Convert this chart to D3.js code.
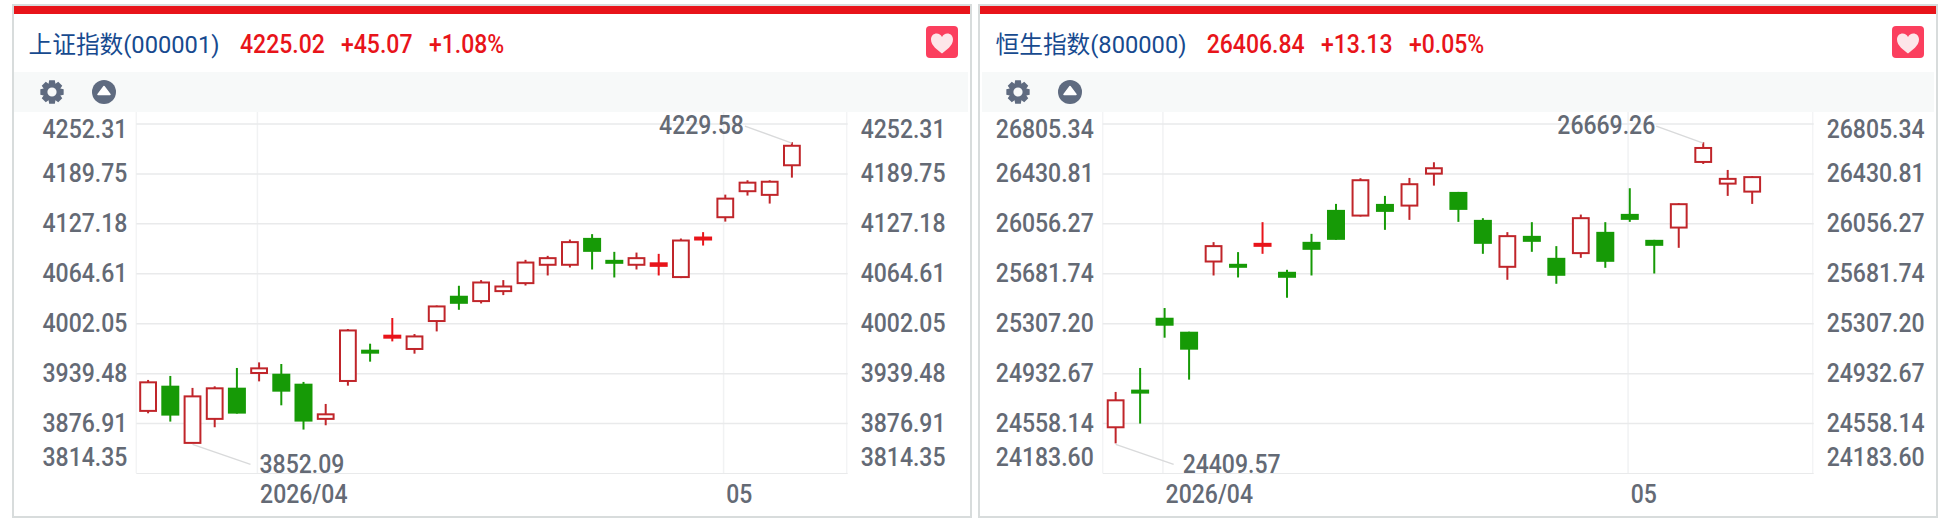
<!DOCTYPE html>
<html><head><meta charset="utf-8">
<script src="https://cdn.jsdelivr.net/npm/d3@7/dist/d3.min.js"></script>
<style>
html,body{margin:0;padding:0;background:#fff;overflow:hidden}
svg{display:block}
text{font-family:Roboto,"Noto Sans CJK SC",sans-serif}
</style></head><body>
<svg id="c" width="1944" height="524"></svg>
<script>
// ---------- 上证指数 ----------
const shTicks=[4252.31,4189.75,4127.18,4064.61,4002.05,3939.48,3876.91,3814.35];
const shOpen =[3892.8,3924.4,3852.7,3882.8,3921.9,3940.3,3939.4,3926.9,3882.8,3930.3,3969.5,3988.3,3970.4,4005.4,4037.1,4030.4,4042.9,4052.9,4075.9,4075.9,4109.6,4082.1,4075.9,4079,4060.5,4111.3,4135.5,4168.1,4163.5,4200.6];
const shHigh =[3931.6,3936.6,3921.6,3923.6,3946.6,3953.6,3951.6,3929.1,3901.5,3995.4,3977,4009.2,3989.1,4024.9,4049.6,4056.7,4056.7,4082.1,4087.1,4107.5,4114.3,4092.1,4091.2,4089.6,4108.8,4116.8,4163.8,4181.8,4181.8,4229.58];
const shLow  =[3889.8,3879.4,3852.09,3872.3,3889.4,3929.8,3899.8,3869.4,3874.8,3924.4,3954.5,3979.9,3964.5,3992.4,4019.5,4027.4,4037.9,4049.9,4062.5,4072.5,4070,4060,4070,4062.5,4059.2,4100,4130,4162.6,4152.6,4185.1];
const shClose=[3928.6,3886.9,3911,3921.1,3889.4,3946.1,3916.9,3879.4,3888.5,3993.6,3964.5,3983.3,3986.1,4023.7,4027,4053.7,4048.7,4078.7,4084.2,4104.3,4092.1,4077.1,4084.2,4073.3,4106.3,4106.3,4158.8,4178.8,4179.95,4225.02];
const shSolidRed=[11,23,25];
// ---------- 恒生指数 ----------
const hsTicks=[26805.34,26430.81,26056.27,25681.74,25307.20,24932.67,24558.14,24183.60];
const hsOpen =[24530.4,24812.8,25352.1,25247.2,25773.8,25756.6,25913.9,25696.7,25921.4,26161.1,26118.4,26206,26193.3,26433,26295.9,26086.2,25734.1,25966.3,25801.5,25836.8,25996.3,26131.1,25936.4,26028.5,26520.7,26358.1,26298.2];
const hsHigh =[24795.5,24975.3,25424.8,25247.2,25919.2,25844.3,26069,25711.7,25981.3,26206,26398.6,26266,26400.8,26518.4,26295.9,26098.9,25994.1,26069,25889.2,26125.9,26069,26323.6,25936.4,26211.3,26669.26,26460.7,26413.5];
const hsLow  =[24409.57,24558.1,25202.3,24887.7,25669,25654,25831.5,25501.9,25669,25936.4,26110.9,26011.3,26086.2,26343.1,26071.2,25831.5,25636.8,25846.5,25606.8,25801.5,25726.6,26071.2,25683.9,25876.5,26505.7,26266,26206];
const hsClose=[24732.6,24782.8,25292.2,25112.4,25889.2,25726.6,25883.9,25651.7,25861.5,25936.4,26383.6,26146.1,26353.6,26473.5,26161.1,25906.4,25964.1,25921.4,25666.7,26098.9,25771.6,26086.2,25891.4,26203.8,26625.5,26393.71,26406.84];
const hsSolidRed=[6];

const RED="#e8141a",HOLLOW="#c0252a",GREEN="#169a06",GREY="#646a75",BLUE="#174a8f";
const svg=d3.select("#c");
const gearPath=(()=>{const t=8,ro=12,ri=9;let p=[];for(let i=0;i<t;i++){const a=i*2*Math.PI/t;const w=.24;
[[ri,a-.39-.0],[ro,a-w],[ro,a+w],[ri,a+.39]].forEach(q=>p.push([q[0]*Math.cos(q[1]),q[0]*Math.sin(q[1])]));}
return "M"+p.map(q=>q[0].toFixed(2)+","+q[1].toFixed(2)).join("L")+"Z M4.6,0A4.6,4.6 0 1 0 -4.6,0A4.6,4.6 0 1 0 4.6,0Z";})();
const heartPath="M0,11.5C-4,8 -11,4 -11,-2.5C-11,-6.5 -8,-8.5 -5.5,-8.5C-3,-8.5 -1,-7 0,-5C1,-7 3,-8.5 5.5,-8.5C8,-8.5 11,-6.5 11,-2.5C11,4 4,8 0,11.5Z";
// condensed numeric look: tall glyphs squeezed to the reference's width
function din(sel){sel.attr("font-size",25).attr("font-weight",500).each(function(){
  const L=this.getComputedTextLength();this.setAttribute("textLength",(L*0.92).toFixed(1));this.setAttribute("lengthAdjust","spacingAndGlyphs");});}

function panel(o){
  const g=svg.append("g").attr("transform",`translate(${o.left},0)`);
  const W=o.width;
  g.append("rect").attr("x",1).attr("y",5).attr("width",W-2).attr("height",512).attr("fill","#fff").attr("stroke","#d8dcdc").attr("stroke-width",2);
  g.append("rect").attr("x",2).attr("y",6).attr("width",W-4).attr("height",8).attr("fill",RED);
  g.append("rect").attr("x",o.barInset).attr("y",72).attr("width",W-o.barInset-4).attr("height",40).attr("fill","#f7f9f9");

  g.append("text").attr("x",o.titleX).attr("y",53).attr("font-size",23.7).attr("fill",BLUE).text(o.title);
  o.quote.forEach((s,i)=>g.append("text").attr("x",o.quoteX[i]).attr("y",53).attr("fill",RED).text(s).call(din));

  g.append("path").attr("transform",`translate(${o.gearX},92)`).attr("d",gearPath).attr("fill","#5f6b80").attr("fill-rule","evenodd");
  g.append("circle").attr("cx",o.gearX+52).attr("cy",92).attr("r",12).attr("fill","#5f6b80");
  g.append("path").attr("transform",`translate(${o.gearX+52},92)`).attr("d","M0,-5.5L6,2.5L-6,2.5Z").attr("fill","#fff").attr("stroke","#fff").attr("stroke-width",1.5).attr("stroke-linejoin","round");
  g.append("rect").attr("x",W-46).attr("y",26).attr("width",32).attr("height",32).attr("rx",4).attr("fill","#fb3f5e");
  g.append("path").attr("transform",`translate(${W-30},42)`).attr("d",heartPath).attr("fill","#fde6e9");

  const x=d3.scaleBand().domain(d3.range(o.slots)).range([o.plotL,o.plotR]);
  const y=d3.scaleLinear().domain([o.ticks[o.ticks.length-1],o.ticks[0]]).range([473.5,124]);
  const cx=i=>x(i)+x.bandwidth()/2+0.7;

  // grid
  const grid=g.append("g").attr("fill","none");
  [o.plotL,o.plotR].forEach(v=>grid.append("line").attr("x1",v).attr("x2",v).attr("y1",112).attr("y2",473).attr("stroke","#f3f4f5").attr("stroke-width",1.5));
  o.monthIdx.forEach(i=>grid.append("line").attr("x1",cx(i)-1.7).attr("x2",cx(i)-1.7).attr("y1",112).attr("y2",473).attr("stroke","#f1f2f3").attr("stroke-width",1.5));
  o.ticks.forEach((t,k)=>grid.append("line").attr("x1",o.plotL).attr("x2",o.plotR+1).attr("y1",y(t)).attr("y2",y(t)).attr("stroke","#e9eaeb").attr("stroke-width",k===o.ticks.length-1?1:1.5));

  // axes
  const nudge=(sel)=>sel.selectAll(".tick text").attr("dy",null)
     .attr("y",(d,i)=>8.8+(i===0?5:i===o.ticks.length-1?-16.8:-0.8));
  const fmt=d=>d.toFixed(2);
  const yL=g.append("g").attr("transform",`translate(${o.plotL},0)`).call(d3.axisLeft(y).tickValues(o.ticks).tickFormat(fmt).tickSize(0).tickPadding(o.labelPadL));
  const yR=g.append("g").attr("transform",`translate(${o.plotR},0)`).call(d3.axisRight(y).tickValues(o.ticks).tickFormat(fmt).tickSize(0).tickPadding(o.labelPadR));
  [yL,yR].forEach(a=>{a.select(".domain").remove();a.attr("font-family",null).attr("font-size",null);a.selectAll("text").attr("fill",GREY).call(din);nudge(a);});

  const xa=d3.axisBottom(x).tickValues(o.monthIdx).tickSize(0).tickFormat((d,i)=>o.monthLabels[i]);
  const xg=g.append("g").attr("transform","translate(0,473)").call(xa);
  xg.attr("font-family",null).attr("font-size",null);
  xg.select(".domain").remove();
  xg.selectAll(".tick text").attr("fill",GREY).attr("text-anchor","start")
    .attr("dy",null).attr("y",30).attr("x",1.7).call(din);

  // candles
  const data=o.open.map((v,i)=>({i,open:v,high:o.high[i],low:o.low[i],close:o.close[i],up:o.close[i]>v,solid:o.solidRed.includes(i)}));
  const bw=17;
  const col=d=>d.up?HOLLOW:(d.solid?RED:GREEN);
  const c=g.append("g").selectAll("g").data(data).join("g");
  c.append("line").attr("x1",d=>cx(d.i)).attr("x2",d=>cx(d.i)).attr("y1",d=>y(d.high)).attr("y2",d=>y(d.low)).attr("stroke",col).attr("stroke-width",2);
  c.append("rect").attr("x",d=>cx(d.i)-(d.up?bw/2-.6:9)).attr("width",d=>d.up?bw-1.2:18)
    .attr("y",d=>y(Math.max(d.open,d.close))).attr("height",d=>Math.abs(y(d.open)-y(d.close)))
    .attr("fill",d=>d.up?"#fff":col(d)).attr("stroke",d=>d.up?col(d):"none").attr("stroke-width",2);

  // extreme labels
  o.notes.forEach(n=>{
    const vy=y(n.v);
    const tx=n.side==="hi"?cx(n.i)-n.dx:cx(n.i)+n.dx;
    g.append("line").attr("x1",cx(n.i)).attr("y1",vy+1).attr("x2",tx).attr("y2",n.side==="hi"?vy-16:vy+21).attr("stroke","#d9dadb").attr("stroke-width",1.5);
    g.append("text").attr("x",n.side==="hi"?tx-1:tx+9).attr("y",n.side==="hi"?vy-8.5:vy+30).attr("fill",GREY)
      .attr("text-anchor",n.side==="hi"?"end":"start").text(n.v.toFixed(2)).call(din);
  });
}

panel({left:12,width:960,barInset:2,titleX:16.5,title:"上证指数(000001)",quote:["4225.02","+45.07","+1.08%"],quoteX:[228,329,417],
  gearX:40,ticks:shTicks,open:shOpen,high:shHigh,low:shLow,close:shClose,solidRed:shSolidRed,
  slots:32,plotL:124.3,plotR:834.7,labelPadL:9,labelPadR:14,monthIdx:[5,26],monthLabels:["2026/04","05"],
  notes:[{i:29,v:shHigh[29],side:"hi",dx:47},{i:2,v:shLow[2],side:"lo",dx:58}]});
panel({left:978,width:960,barInset:4,titleX:17.5,title:"恒生指数(800000)",quote:["26406.84","+13.13","+0.05%"],quoteX:[228.7,343,431],
  gearX:40,ticks:hsTicks,open:hsOpen,high:hsHigh,low:hsLow,close:hsClose,solidRed:hsSolidRed,
  slots:29,plotL:124.7,plotR:834.7,labelPadL:9,labelPadR:14,monthIdx:[2,21],monthLabels:["2026/04","05"],
  notes:[{i:24,v:hsHigh[24],side:"hi",dx:47},{i:0,v:hsLow[0],side:"lo",dx:58}]});
</script></body></html>
